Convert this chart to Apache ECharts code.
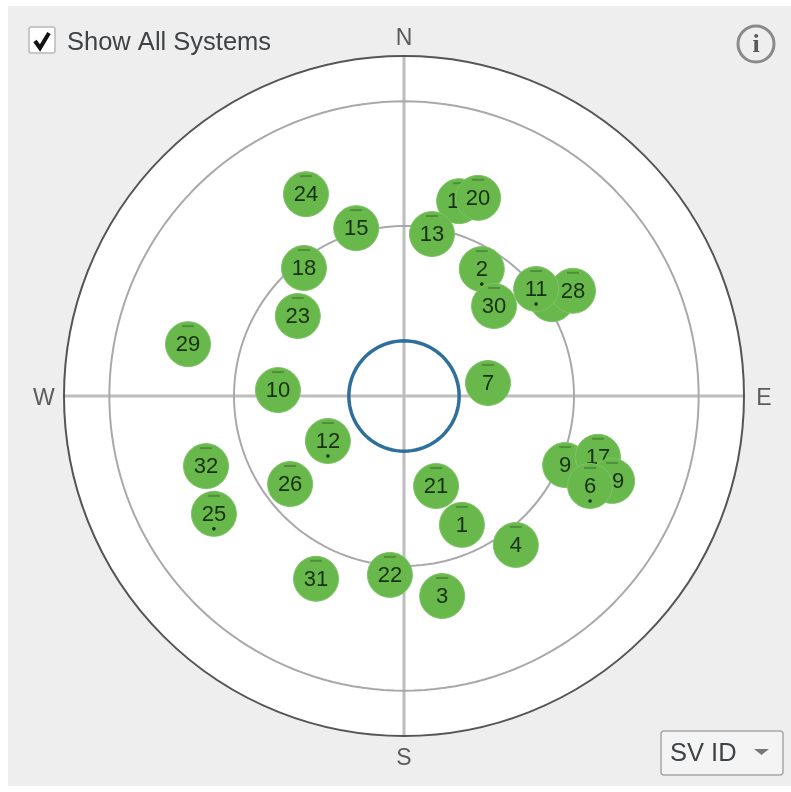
<!DOCTYPE html>
<html><head><meta charset="utf-8">
<style>html,body{margin:0;padding:0;background:#fff}#c{width:791px;height:792px}</style>
<script src="https://cdn.jsdelivr.net/npm/echarts@6/dist/echarts.min.js"></script>
</head><body><div id="c"></div>
<script>
// Draw order matters: later satellites overlap earlier ones.
const svIds       = [24,15,14,20,13,18,2,23,30,27,28,11,29,10,7,12,32,26,25,21,1,4,22,31,3,9,17,19,6];
const azimuthDeg  = [334.1,344.1,15.8,20.5,9.8,322,31.5,307,45,56.8,58.1,51,283.5,272.7,81.2,239.4,250.5,232.3,238.2,160.4,155.8,143.1,184.5,205.7,169.2,113.2,107.4,112.2,115.8];
const zenithDeg   = [59.4,46.2,53.6,56,43.5,43,39.4,35.2,33.7,46.8,52.7,45,58.8,33.4,22.5,23.4,55.6,38.1,59.2,25.3,37.4,49.3,47.5,53.7,53.9,46.4,53.8,59.5,54.7];
const dottedIds   = [2,11,12,25,6];
const compassLabels = ['N','E','S','W'];
const compassAz   = [0,90,180,270];
const compassRadius = 95.3;
const ringZenith  = [14.6,45,78];
const ringColors  = ['#2f6f9c','#a9a9ad','#a9a9ad'];
const ringWidths  = [3.5,2,2];

const FONT = '"Liberation Sans", Arial, sans-serif';
const circlePts = z => { const a=[]; for(let d=0;d<=360;d+=2) a.push([z,d]); return a; };

const ringSeries = ringZenith.map((z,i)=>({
  type:'line', coordinateSystem:'polar', data:circlePts(z), showSymbol:false, silent:true,
  lineStyle:{color:ringColors[i],width:ringWidths[i]}, z:3, animation:false
}));

const satData = svIds.map((id,i)=>[zenithDeg[i],azimuthDeg[i],id,dottedIds.includes(id)?1:0]);

const satSeries = {
  type:'custom', coordinateSystem:'polar', data:satData, z:5, animation:false, clip:false,
  encode:{radius:0,angle:1},
  renderItem(params,api){
    const p = api.coord([api.value(0),api.value(1)]);
    const kids = [
      {type:'circle',shape:{cx:p[0],cy:p[1],r:22.5},style:{fill:'#69b84c',stroke:'#7cc465',lineWidth:1}},
      {type:'rect',shape:{x:p[0]-6,y:p[1]-19,width:12,height:2},style:{fill:'#4f8f3c'}},
      {type:'text',style:{x:p[0],y:p[1]+1,text:String(api.value(2)),fill:'#18300f',font:'22px '+FONT,align:'center',verticalAlign:'middle'}}
    ];
    if(api.value(3)) kids.push({type:'circle',shape:{cx:p[0],cy:p[1]+15,r:1.8},style:{fill:'#18300f'}});
    return {type:'group',children:kids};
  }
};

const compassSeries = {
  type:'custom', coordinateSystem:'polar', z:6, animation:false, clip:false, silent:true,
  data:compassAz.map((a,i)=>[compassRadius,a,compassLabels[i]]),
  encode:{radius:0,angle:1},
  renderItem(params,api){
    const p = api.coord([api.value(0),api.value(1)]);
    return {type:'text',style:{x:p[0],y:p[1]+2.5,text:compassLabels[params.dataIndex],fill:'#5c5c5c',font:'23px '+FONT,align:'center',verticalAlign:'middle'}};
  }
};

const chart = echarts.init(document.getElementById('c'),null,{renderer:'canvas'});
chart.setOption({
  animation:false,
  backgroundColor:'#ffffff',
  polar:{center:[404,396],radius:340},
  angleAxis:{
    type:'value',min:0,max:360,interval:90,startAngle:90,clockwise:true,
    axisLine:{show:true,lineStyle:{color:'#555555',width:2}},
    axisTick:{show:false},
    splitLine:{show:true,lineStyle:{color:'#bdbdbd',width:3}},
    axisLabel:{show:false}
  },
  radiusAxis:{
    type:'value',min:0,max:90,interval:90,
    axisLine:{show:false},axisTick:{show:false},axisLabel:{show:false},
    splitLine:{show:false},
    splitArea:{show:true,areaStyle:{color:['#ffffff']}}
  },
  graphic:[
    {type:'rect',z:-10,shape:{x:8,y:6,width:783,height:780},style:{fill:'#eeeeee'}},
    {type:'rect',z:10,shape:{x:29,y:27,width:26,height:26,r:2},style:{fill:'#ffffff',stroke:'#b9b9b9',lineWidth:1.5}},
    {type:'polyline',z:11,shape:{points:[[35,41],[40,48],[49,33]]},style:{fill:'none',stroke:'#111111',lineWidth:4}},
    {type:'text',z:10,style:{x:67,y:43,text:'Show All Systems',fill:'#3f4346',font:'25.5px '+FONT,verticalAlign:'middle'}},
    {type:'circle',z:10,shape:{cx:756,cy:44,r:18},style:{fill:'none',stroke:'#8a8a8a',lineWidth:3}},
    {type:'text',z:10,style:{x:756,y:45,text:'i',fill:'#5a5a5a',font:'bold 26px "Liberation Serif", serif',align:'center',verticalAlign:'middle'}},
    {type:'rect',z:10,shape:{x:661,y:731,width:122,height:44,r:3},style:{fill:'#f4f4f4',stroke:'#a8a8a8',lineWidth:1.5}},
    {type:'text',z:11,style:{x:670,y:754,text:'SV ID',fill:'#3f4346',font:'25.5px '+FONT,verticalAlign:'middle'}},
    {type:'polygon',z:11,shape:{points:[[754,749],[769,749],[761.5,755]]},style:{fill:'#777777'}}
  ],
  series:[...ringSeries,satSeries,compassSeries]
});
</script></body></html>
